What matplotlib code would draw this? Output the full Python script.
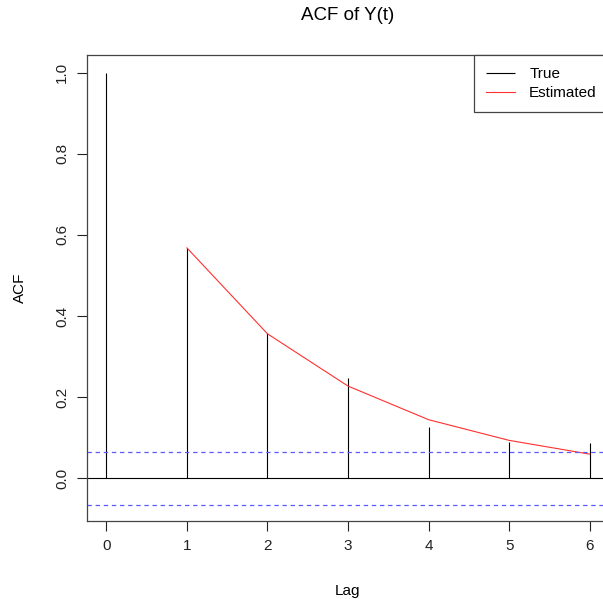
import numpy as np
import matplotlib
matplotlib.use('Agg')
import matplotlib.pyplot as plt

plt.rcParams['font.family'] = ['Liberation Sans', 'DejaVu Sans']

# ACF values
lags = [0, 1, 2, 3, 4, 5, 6]
acf_true = [1.0, 0.568, 0.358, 0.247, 0.127, 0.090, 0.087]
acf_est = [0.568, 0.356, 0.227, 0.144, 0.093, 0.059]
est_lags = [1, 2, 3, 4, 5, 6]
ci = 0.0655

W, H = 603, 599
fig = plt.figure(figsize=(W / 100, H / 100), dpi=100)
# axes runs past the right edge like the cropped original
ax = fig.add_axes([87 / W, 1 - 521 / H, (609 - 87) / W, (521 - 55) / H])

ax.vlines(lags, 0, acf_true, color='black', lw=0.8, label='True')
ax.plot(est_lags, acf_est, color='#ff3030', lw=0.8, label='Estimated')
ax.axhline(0, color='black', lw=0.8)
ax.axhline(ci, color='#5a5aff', lw=0.9, ls=(0, (3.5, 3)))
ax.axhline(-ci, color='#5a5aff', lw=0.9, ls=(0, (3.5, 3)))

ax.set_xlim(-0.24, 6.24)
ax.set_ylim(-0.106, 1.044)
ax.set_xticks(lags)
ax.set_yticks([0.0, 0.2, 0.4, 0.6, 0.8, 1.0])
ax.set_yticklabels(['0.0', '0.2', '0.4', '0.6', '0.8', '1.0'], rotation=90, va='center')
ax.tick_params(direction='out', length=7, width=0.8, labelsize=11, colors='#222222', pad=6)
for s in ax.spines.values():
    s.set_color('#444444')
    s.set_linewidth(0.9)

ax.set_xlabel('Lag', fontsize=11, labelpad=22)
ax.set_ylabel('ACF', fontsize=11, labelpad=20)
fig.text(348 / W, 1 - 16 / H, 'ACF of Y(t)', ha='center', va='center', fontsize=13.5)

leg = ax.legend(loc='upper right', bbox_to_anchor=(1, 1), borderaxespad=0,
                fancybox=False, framealpha=1, edgecolor='#444444', fontsize=11,
                handlelength=1.9, handletextpad=0.9, borderpad=0.8, labelspacing=0.33)
leg.get_frame().set_linewidth(0.9)

fig.savefig('out.png', dpi=100)
